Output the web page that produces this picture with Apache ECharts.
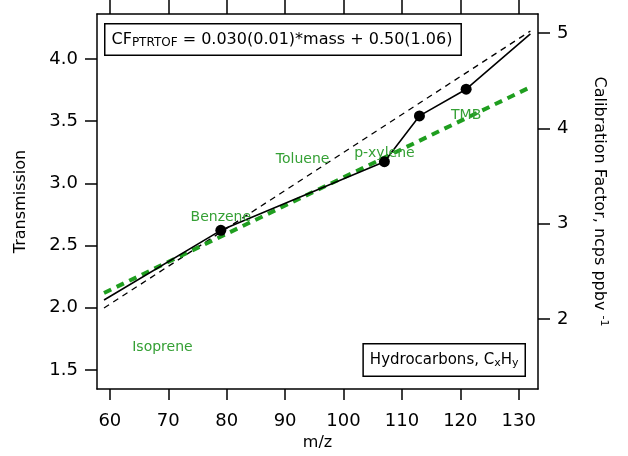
<!DOCTYPE html>
<html>
<head>
<meta charset="utf-8">
<script src="https://cdn.jsdelivr.net/npm/echarts@6/dist/echarts.min.js"></script>
<style>html,body{margin:0;padding:0;background:#fff}#c{width:628px;height:456px}</style>
</head>
<body>
<div id="c"></div>
<script>
// m/z tick labels
var xTicks = [60, 70, 80, 90, 100, 110, 120, 130];
var leftTicks = [1.5, 2.0, 2.5, 3.0, 3.5, 4.0];
var rightTicks = [2, 3, 4, 5];

// Calibration factor (right axis): solid black line through measured points
var cfLineMass = [59, 79, 107, 113, 121, 132];
var cfLineVal = [2.20, 2.93, 3.65, 4.13, 4.41, 4.99];
// measured calibration points
var cfPointMass = [79, 107, 113, 121];
var cfPointVal = [2.93, 3.65, 4.13, 4.41];
// black dashed reference line (right axis)
var refMass = [59, 132];
var refVal = [2.115, 5.02];
// green dashed fit (left axis, transmission)
var fitMass = [59, 131.7];
var fitVal = [2.119, 3.767];
// transmission labels (left axis)
var compounds = ["Isoprene", "Benzene", "Toluene", "p-xylene", "TMB"];
var compMass = [69, 79, 93, 107, 121];
var compTrans = [1.685, 2.73, 3.19, 3.245, 3.55];

function zip(a, b) { return a.map(function (v, i) { return [v, b[i]]; }); }

var FONT = "DejaVu Sans";
var GREEN_LINE = "#1f9e1f";
var GREEN_TEXT = "#35a035";

var chart = echarts.init(document.getElementById('c'));
var axisLineStyle = { color: '#000', width: 1.5 };
var option = {
  animation: false,
  backgroundColor: '#fff',
  grid: { left: 97, right: 90, top: 14, bottom: 67, containLabel: false },
  xAxis: [{
    type: 'value', min: 57.8, max: 133.3, position: 'bottom',
    name: 'm/z', nameLocation: 'middle', nameGap: 45,
    nameTextStyle: { fontFamily: FONT, fontSize: 16, color: '#000' },
    splitLine: { show: false },
    axisLine: { show: true, lineStyle: axisLineStyle },
    axisTick: { show: true, inside: false, length: 11, lineStyle: axisLineStyle, customValues: xTicks },
    axisLabel: { fontFamily: FONT, fontSize: 18, color: '#000', margin: 23, customValues: xTicks }
  }, {
    type: 'value', min: 57.8, max: 133.3, position: 'top',
    splitLine: { show: false },
    axisLine: { show: true, lineStyle: axisLineStyle },
    axisTick: { show: true, inside: false, length: 14, lineStyle: axisLineStyle, customValues: xTicks },
    axisLabel: { show: false }
  }],
  yAxis: [{
    type: 'value', min: 1.347, max: 4.362, position: 'left',
    name: 'Transmission', nameLocation: 'middle', nameGap: 68, nameRotate: 90,
    nameTextStyle: { fontFamily: FONT, fontSize: 16, color: '#000' },
    splitLine: { show: false },
    axisLine: { show: true, lineStyle: axisLineStyle },
    axisTick: { show: true, inside: false, length: 12, lineStyle: axisLineStyle, customValues: leftTicks },
    axisLabel: { fontFamily: FONT, fontSize: 18, color: '#000', margin: 19, customValues: leftTicks,
      formatter: function (v) { return v.toFixed(1); } }
  }, {
    type: 'value', min: 1.266, max: 5.199, position: 'right',
    name: 'Calibration Factor, ncps ppbv {sup|-1}', nameLocation: 'middle', nameGap: 52, nameRotate: -90,
    nameTextStyle: { fontFamily: FONT, fontSize: 16, color: '#000',
      rich: { sup: { fontFamily: FONT, fontSize: 11, verticalAlign: 'top', padding: [0, 0, 8, 0] } } },
    splitLine: { show: false },
    axisLine: { show: true, lineStyle: axisLineStyle },
    axisTick: { show: true, inside: false, length: 12, lineStyle: axisLineStyle, customValues: rightTicks },
    axisLabel: { fontFamily: FONT, fontSize: 18, color: '#000', margin: 19, customValues: rightTicks }
  }],
  series: [{
    type: 'line', yAxisIndex: 1, data: zip(refMass, refVal), symbol: 'none',
    lineStyle: { color: '#000', width: 1.3, type: [6, 5] }, z: 2
  }, {
    type: 'line', yAxisIndex: 0, data: zip(fitMass, fitVal), symbol: 'none',
    lineStyle: { color: GREEN_LINE, width: 4, type: [8, 6] }, z: 3
  }, {
    type: 'line', yAxisIndex: 1, data: zip(cfLineMass, cfLineVal), symbol: 'none',
    lineStyle: { color: '#000', width: 1.6 }, z: 4
  }, {
    type: 'scatter', yAxisIndex: 1, data: zip(cfPointMass, cfPointVal), symbol: 'circle', symbolSize: 11,
    itemStyle: { color: '#000', opacity: 1 }, z: 5
  }, {
    type: 'scatter', yAxisIndex: 0, symbolSize: 0, z: 6,
    itemStyle: { opacity: 1 },
    data: compounds.map(function (n, i) { return { name: n, value: [compMass[i], compTrans[i]] }; }),
    label: { show: true, position: 'inside', formatter: '{b}', fontFamily: FONT, fontSize: 14, color: GREEN_TEXT }
  }],
  graphic: [{
    type: 'text', left: 104, top: 23, z: 10,
    style: {
      text: 'CF{sub|PTRTOF} = 0.030(0.01)*mass + 0.50(1.06)',
      fontFamily: FONT, fontSize: 16, fill: '#000',
      backgroundColor: '#fff', borderColor: '#000', borderWidth: 1.5,
      padding: [6, 8, 6, 6],
      rich: {
        sub: { fontFamily: FONT, fontSize: 12, verticalAlign: 'bottom', padding: [6, 0, 0, 0] }
      }
    }
  }, {
    type: 'text', right: 628 - 526, top: 343, z: 10,
    style: {
      text: 'Hydrocarbons, C{sub|x}H{sub|y}',
      fontFamily: FONT, fontSize: 15, fill: '#000',
      backgroundColor: '#fff', borderColor: '#000', borderWidth: 1.5,
      padding: [7, 6, 7, 6],
      rich: {
        sub: { fontFamily: FONT, fontSize: 11, verticalAlign: 'bottom', padding: [6, 0, 0, 0] }
      }
    }
  }]
};
chart.setOption(option);
</script>
</body>
</html>
